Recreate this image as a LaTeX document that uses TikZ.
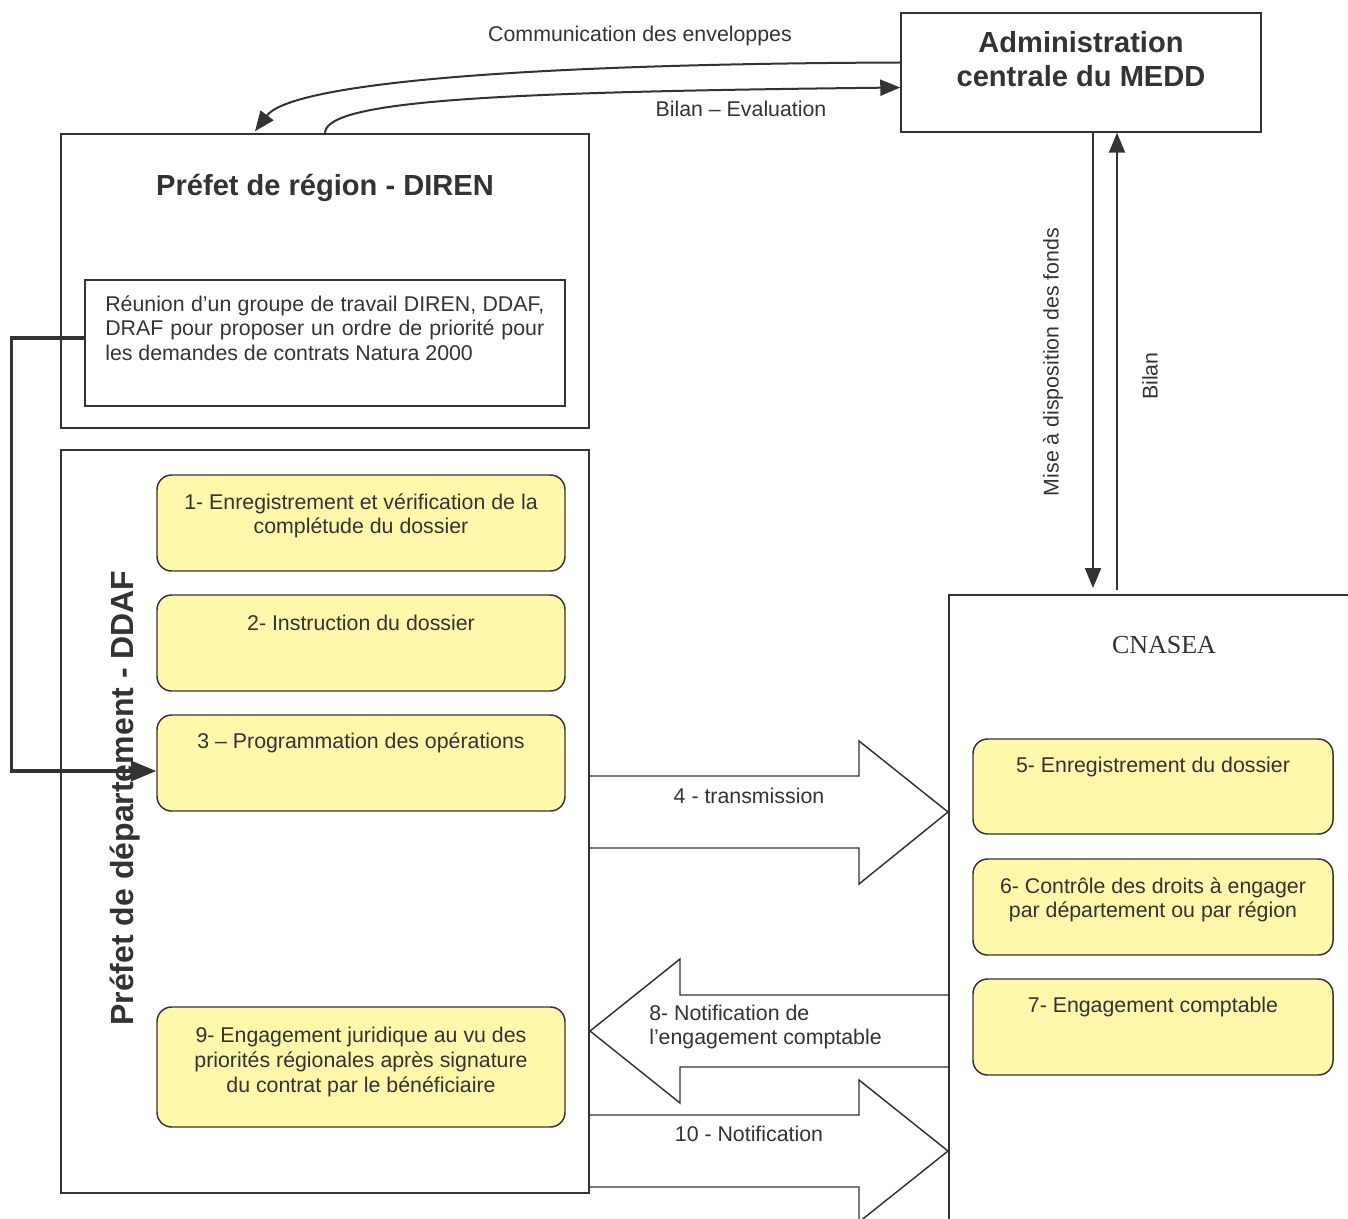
\documentclass[tikz,border=0pt]{standalone}
\usepackage{fontspec}
\setmainfont{Liberation Sans}
\newfontfamily\serifcn{Liberation Serif}
\usetikzlibrary{arrows.meta,fit}
\definecolor{ln}{HTML}{333333}
\definecolor{yel}{HTML}{FFF7AA}
\begin{document}
\begin{tikzpicture}[x=0.75pt,y=-0.75pt,
  box/.style={draw=ln, line width=1.1pt, inner sep=0pt},
  ybox/.style={box, fill=yel, rounded corners=11pt},
  txt/.style={text=ln, font=\fontsize{16}{18.4}\selectfont, inner sep=0pt, align=center},
  ttl/.style={text=ln, font=\bfseries\fontsize{21.8}{25.5}\selectfont, inner sep=0pt, align=center},
  arr/.style={draw=ln, line width=1.5pt, -{Triangle[length=15pt,width=12pt]}},
  lead/.style={draw=ln, line width=2.6pt, -{Triangle[length=19pt,width=15pt]}},
  barrow/.style={draw=ln, fill=white, line width=1.1pt, line join=miter}]
\useasboundingbox (0,0) rectangle (1348,1219);
\clip (0,0) rectangle (1348,1219);

% block arrows (drawn first so the box edges stay on top)
\draw[barrow] (589,776) -- (859,776) -- (859,741) -- (948,812) -- (859,884) -- (859,848) -- (589,848);
\draw[barrow] (949,995) -- (680,995) -- (680,959) -- (590,1031) -- (680,1103) -- (680,1067) -- (949,1067);
\draw[barrow] (589,1115) -- (859,1115) -- (859,1080) -- (948,1151) -- (859,1222) -- (859,1187) -- (589,1187);

% main boxes
\node[box, fit={(901,13)(1261,132)}] (admin) {};
\node[box, fit={(61,134)(589,428)}] (region) {};
\node[box, fit={(85,280)(565,406)}] (inner) {};
\node[box, fit={(61,450)(589,1193)}] (dept) {};
\node[box, fit={(949,595)(1356,1230)}] (cnasea) {};

% yellow boxes
\node[ybox, fit={(157,475)(565,571)}] (b1) {};
\node[ybox, fit={(157,595)(565,691)}] (b2) {};
\node[ybox, fit={(157,715)(565,811)}] (b3) {};
\node[ybox, fit={(157,1007)(565,1127)}] (b9) {};
\node[ybox, fit={(973,739)(1333,834)}] (b5) {};
\node[ybox, fit={(973,859)(1333,955)}] (b6) {};
\node[ybox, fit={(973,979)(1333,1075)}] (b7) {};

% titles
\node[ttl] (tadmin) at (1081,59) {Administration\\centrale du MEDD};
\node[ttl] (tregion) at (325,188) {Préfet de région - DIREN};
\node[text=ln, font=\bfseries\fontsize{24}{28}\selectfont, inner sep=0pt, rotate=90] (tdept) at (125,798) {Préfet de département - DDAF};
\node[text=ln, font=\serifcn\fontsize{19.5}{22}\selectfont, inner sep=0pt] (tcn) at (1164,645) {CNASEA};

% inner text
\node[txt, align=left, anchor=west] (tinner) at (105,328)
 {\makebox[329.25pt][s]{Réunion d’un groupe de travail DIREN, DDAF,}\\
  \makebox[329.25pt][s]{DRAF pour proposer un ordre de priorité pour}\\
  les demandes de contrats Natura 2000};

% box texts
\node[txt] (t1) at (361,516) {1- Enregistrement et vérification de la\\complétude du dossier};
\node[txt] (t2) at (361,623) {2- Instruction du dossier};
\node[txt] (t3) at (361,743) {3 – Programmation des opérations};
\node[txt] (t9) at (361,1062) {9- Engagement juridique au vu des\\priorités régionales après signature\\du contrat par le bénéficiaire};
\node[txt] (t5) at (1153,767) {5- Enregistrement du dossier};
\node[txt] (t6) at (1153,900) {6- Contrôle des droits à engager\\par département ou par région};
\node[txt] (t7) at (1153,1007) {7- Engagement comptable};

% block arrow labels
\node[txt] (l4) at (749,796) {4 - transmission};
\node[txt, align=left, anchor=west] (l8) at (649,1027) {8- Notification de\\l’engagement comptable};
\node[txt] (l10) at (749,1134) {10 - Notification};

% curved arrows
\draw[arr] ([yshift=7.5pt]admin.west) .. controls (500,64) and (290,85) .. ([xshift=-52.5pt,yshift=1.5pt]region.north);
\draw[arr] (region.north) .. controls (325,100) and (500,92) .. ([yshift=-11.25pt]admin.west);
\node[txt] (lcom) at (640,36) {Communication des enveloppes};
\node[txt] (lbil) at (741,109) {Bilan – Evaluation};

% vertical arrows
\coordinate (mend) at (1093,588);
\coordinate (bstart) at (1117,590);
\draw[arr] ([xshift=9pt]admin.south) -- (mend);
\draw[arr] (bstart) -- ([xshift=27pt]admin.south);
\node[txt, rotate=90] (lmise) at (1053,362) {Mise à disposition des fonds};
\node[txt, rotate=90] (lbilan) at (1150,376) {Bilan};

% lead connector
\draw[lead] ([yshift=3.75pt]inner.west) -- ++(-73,0) |- ([yshift=-6pt]b3.west);
\end{tikzpicture}
\end{document}
